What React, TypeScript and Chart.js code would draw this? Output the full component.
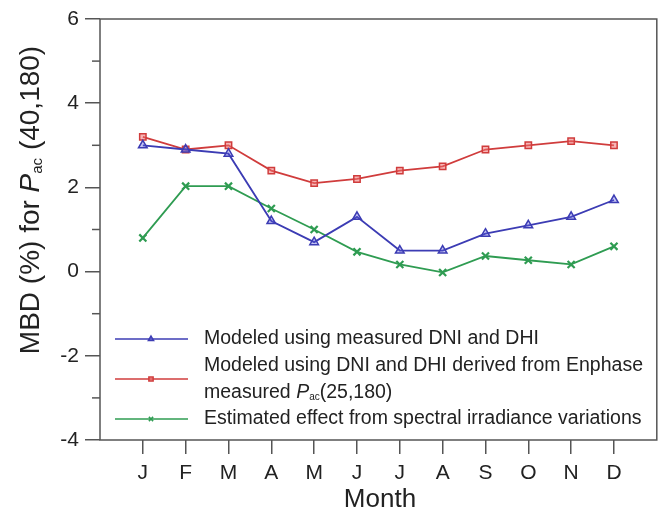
import React, { useEffect, useRef } from 'react';
import { Chart, registerables } from 'chart.js';
import { drawPoint } from 'chart.js/helpers';

Chart.register(...registerables);

const months = ['J', 'F', 'M', 'A', 'M', 'J', 'J', 'A', 'S', 'O', 'N', 'D'];
const measuredDniDhi = [3.0, 2.9, 2.8, 1.2, 0.7, 1.3, 0.5, 0.5, 0.9, 1.1, 1.3, 1.7];
const enphaseDerived = [3.2, 2.9, 3.0, 2.4, 2.1, 2.2, 2.4, 2.5, 2.9, 3.0, 3.1, 3.0];
const spectralEffect = [0.8, 2.03, 2.03, 1.5, 1.0, 0.47, 0.17, -0.02, 0.37, 0.27, 0.17, 0.6];
const yMin = -4;
const yMax = 6;
const yStep = 2;
const minorTicks = [-3, -1, 1, 3, 5];

const FONT = '"Liberation Sans", Arial, Helvetica, sans-serif';
const BLUE = '#3c3cb4';
const RED = '#d03c3c';
const GREEN = '#2f9c52';

type Piece = { t: string; size: number; italic?: boolean; dy?: number };

function drawRich(ctx: CanvasRenderingContext2D, pieces: Piece[], x: number, y: number, align: 'left' | 'center') {
  const fontOf = (p: Piece) => `${p.italic ? 'italic ' : ''}${p.size}px ${FONT}`;
  let total = 0;
  for (const p of pieces) {
    ctx.font = fontOf(p);
    total += ctx.measureText(p.t).width;
  }
  let cx = align === 'center' ? x - total / 2 : x;
  ctx.textAlign = 'left';
  ctx.textBaseline = 'middle';
  for (const p of pieces) {
    ctx.font = fontOf(p);
    ctx.fillText(p.t, cx, y + (p.dy || 0));
    cx += ctx.measureText(p.t).width;
  }
}

const legendItems = [
  { color: BLUE, fill: 'rgba(90,90,220,0.35)', style: 'triangle', lines: [[{ t: 'Modeled using measured DNI and DHI', size: 19.5 }]] },
  {
    color: RED, fill: 'rgba(240,110,110,0.5)', style: 'rect', lines: [
      [{ t: 'Modeled using DNI and DHI derived from Enphase', size: 19.5 }],
      [{ t: 'measured ', size: 19.5 }, { t: 'P', size: 19.5, italic: true }, { t: 'ac', size: 10, dy: 5 }, { t: '(25,180)', size: 19.5 }],
    ],
  },
  { color: GREEN, fill: GREEN, style: 'crossRot', lines: [[{ t: 'Estimated effect from spectral irradiance variations', size: 19.5 }]] },
];

const decorPlugin = {
  id: 'decor',
  afterDraw(chart: any) {
    const { ctx, chartArea: a, scales } = chart;
    const ys = scales.y;
    ctx.save();
    ctx.strokeStyle = '#555';
    ctx.lineWidth = 1.5;
    ctx.strokeRect(a.left, a.top, a.right - a.left, a.bottom - a.top);
    for (const v of minorTicks) {
      const py = ys.getPixelForValue(v);
      ctx.beginPath();
      ctx.moveTo(a.left - 8, py);
      ctx.lineTo(a.left, py);
      ctx.stroke();
    }
    ctx.fillStyle = '#222';
    // y title
    ctx.save();
    ctx.translate(31, 200);
    ctx.rotate(-Math.PI / 2);
    drawRich(ctx, [
      { t: 'MBD (%) for ', size: 28 },
      { t: 'P', size: 28, italic: true },
      { t: 'ac', size: 15, dy: 7 },
      { t: ' (40,180)', size: 28 },
    ], 0, 0, 'center');
    ctx.restore();
    // x title
    drawRich(ctx, [{ t: 'Month', size: 26 }], 380, 500, 'center');
    // legend
    const rowY = [339, 379, 419];
    const lineGap = 26.5;
    legendItems.forEach((it, i) => {
      const cy = rowY[i];
      ctx.strokeStyle = it.color;
      ctx.lineWidth = 1.5;
      ctx.beginPath();
      ctx.moveTo(115, cy);
      ctx.lineTo(188, cy);
      ctx.stroke();
      ctx.fillStyle = it.fill;
      drawPoint(ctx, { pointStyle: it.style as any, radius: 3, borderWidth: 1.5, rotation: 0 } as any, 151, cy);
      ctx.fillStyle = '#222';
      const n = it.lines.length;
      it.lines.forEach((ln, j) => {
        const ty = cy + (j - (n - 1) / 2) * lineGap;
        drawRich(ctx, ln as Piece[], 204, ty, 'left');
      });
    });
    ctx.restore();
  },
};

export default function App() {
  const ref = useRef<HTMLCanvasElement | null>(null);
  useEffect(() => {
    if (!ref.current) return;
    const mk = (vals: number[]) => vals.map((v, i) => ({ x: i + 1, y: v }));
    const chart = new Chart(ref.current, {
      type: 'line',
      data: {
        datasets: [
          { label: 'Modeled using measured DNI and DHI', data: mk(measuredDniDhi), borderColor: BLUE, backgroundColor: 'rgba(90,90,220,0.35)', pointStyle: 'triangle', pointRadius: 5, pointBorderWidth: 1.5, borderWidth: 1.8 },
          { label: 'Modeled using DNI and DHI derived from Enphase measured Pac(25,180)', data: mk(enphaseDerived), borderColor: RED, backgroundColor: 'rgba(240,110,110,0.5)', pointStyle: 'rect', pointRadius: 4.5, pointBorderWidth: 1.5, borderWidth: 1.8 },
          { label: 'Estimated effect from spectral irradiance variations', data: mk(spectralEffect), borderColor: GREEN, backgroundColor: GREEN, pointStyle: 'crossRot', pointRadius: 5, pointBorderWidth: 2.2, borderWidth: 1.8 },
        ],
      },
      options: {
        responsive: false,
        animation: false,
        events: [],
        layout: { padding: { top: 19, right: 4, left: 0, bottom: 0 } },
        plugins: { legend: { display: false }, tooltip: { enabled: false } },
        scales: {
          x: {
            type: 'linear',
            min: 0,
            max: 13,
            afterBuildTicks: (s: any) => { s.ticks = months.map((_, i) => ({ value: i + 1 })); },
            afterFit: (s: any) => { s.height = 77; },
            ticks: { autoSkip: false, maxRotation: 0, padding: 7, color: '#222', font: { family: FONT, size: 21 }, callback: (v: any) => months[Math.round(v) - 1] ?? '' },
            grid: { display: true, drawOnChartArea: false, drawTicks: true, tickLength: 14, color: '#555', lineWidth: 1.5 },
            border: { display: false },
          },
          y: {
            type: 'linear',
            min: yMin,
            max: yMax,
            afterFit: (s: any) => { s.width = 100; },
            ticks: { stepSize: yStep, padding: 6, color: '#222', font: { family: FONT, size: 21 } },
            grid: { display: true, drawOnChartArea: false, drawTicks: true, tickLength: 15, color: '#555', lineWidth: 1.5 },
            border: { display: false },
          },
        },
      },
      plugins: [decorPlugin],
    });
    return () => chart.destroy();
  }, []);
  return (
    <div style={{ position: 'absolute', left: 0, top: 0, width: 664, height: 517, background: '#fff' }}>
      <canvas ref={ref} width={664} height={517} style={{ display: 'block' }} />
    </div>
  );
}
